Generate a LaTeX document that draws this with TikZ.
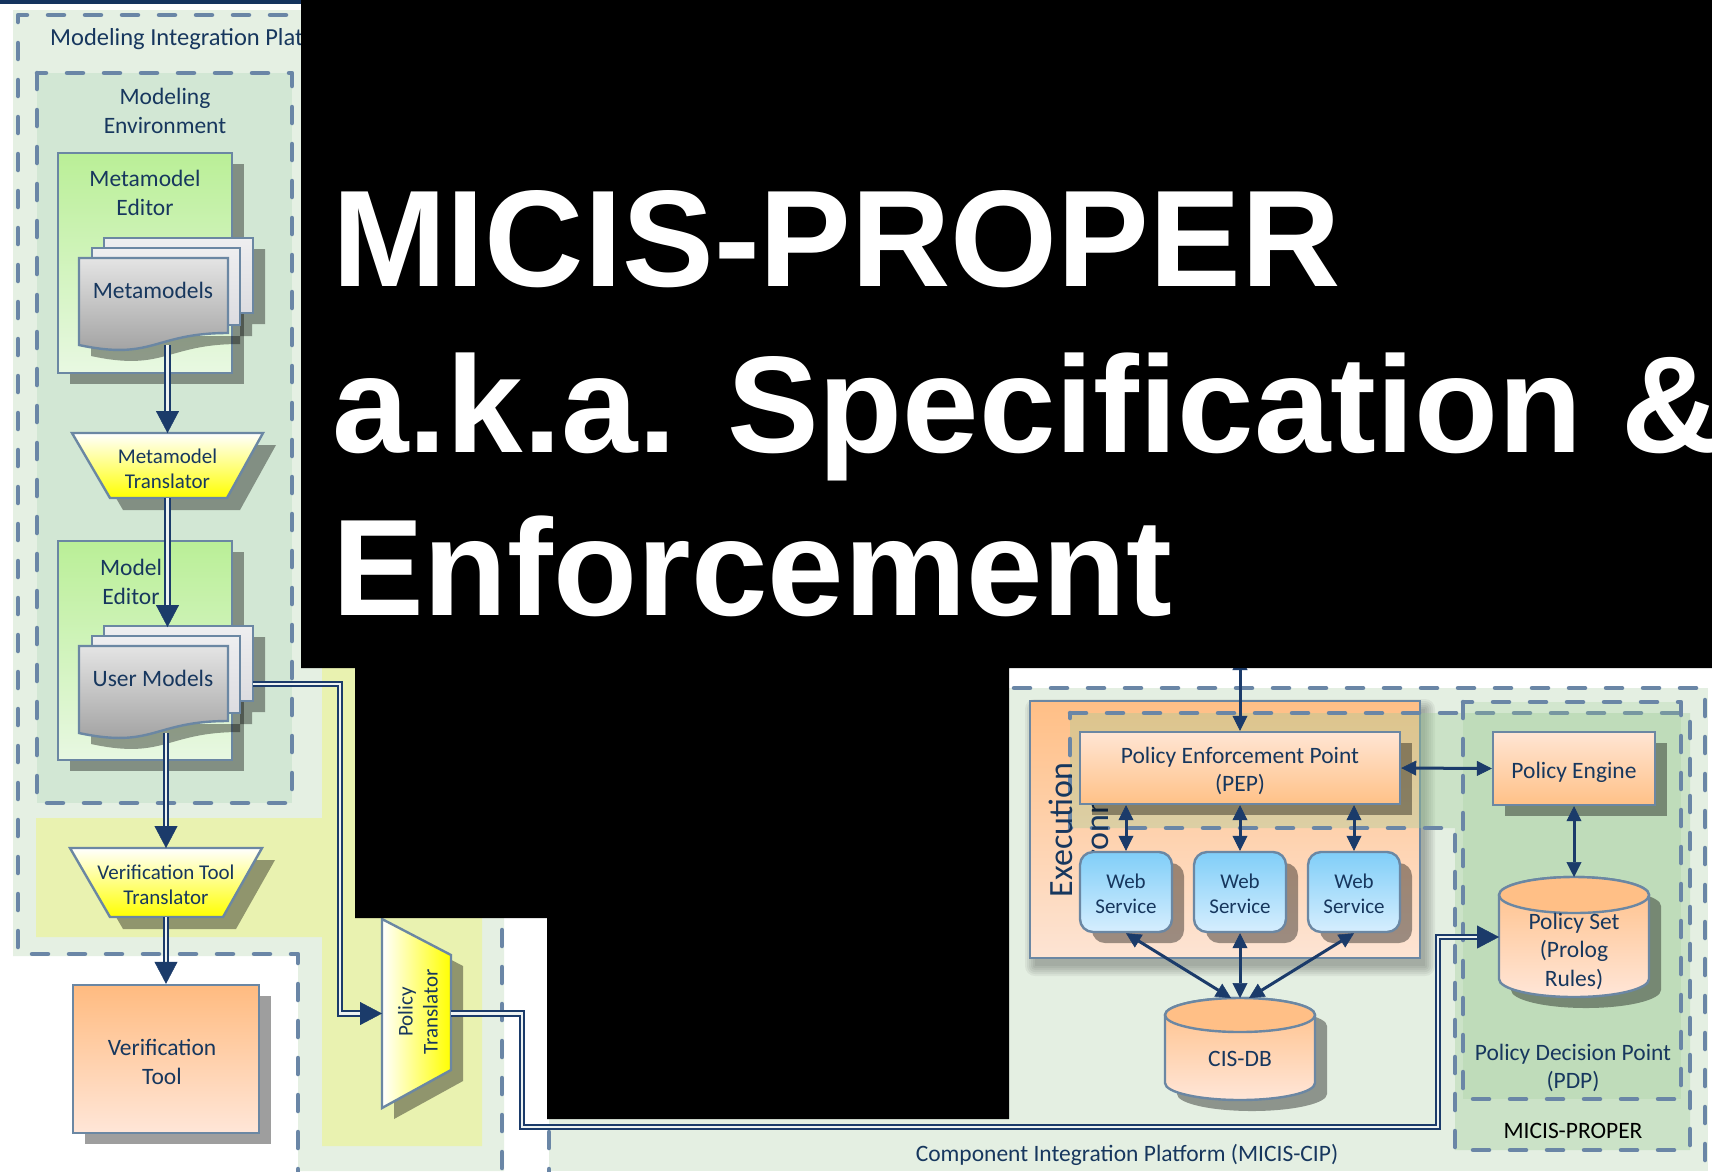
\documentclass[tikz,border=0pt]{standalone}
\usepackage{fontspec}
\setmainfont{Carlito}
\newfontfamily\titlefont{Liberation Sans}
\usetikzlibrary{arrows.meta,calc,shadows}

\definecolor{navyc}{HTML}{1B3B6A}
\definecolor{dblin}{HTML}{EEF3F1}
\definecolor{txtc}{HTML}{17375E}
\definecolor{edgec}{HTML}{6B87A3}
\definecolor{dashc}{HTML}{6A86A6}
\definecolor{mipfill}{HTML}{E5F0E3}
\definecolor{mefill}{HTML}{D2E7D4}
\definecolor{yelfill}{HTML}{E9F2B0}
\definecolor{cipfill}{HTML}{E4EFE2}
\definecolor{propfill}{HTML}{9ECC96}
\definecolor{greentop}{HTML}{BAEF97}
\definecolor{greenbot}{HTML}{E8F8E2}
\definecolor{orangetop}{HTML}{FFBB80}
\definecolor{orangebot}{HTML}{FFE6D8}
\definecolor{eetop}{HTML}{FFBF86}
\definecolor{eebot}{HTML}{FDE4D4}
\definecolor{peachtop}{HTML}{FFE5D4}
\definecolor{peachbot}{HTML}{FFC187}
\definecolor{bluetop}{HTML}{80CEF8}
\definecolor{bluebot}{HTML}{D6EEFE}
\definecolor{cyltop}{HTML}{FFBF86}
\definecolor{cylbot}{HTML}{FFE6D8}
\definecolor{pagetop}{HTML}{EEEEF0}
\definecolor{pagebot}{HTML}{DCDCE0}
\definecolor{fronttop}{HTML}{E4E4E4}
\definecolor{frontbot}{HTML}{9C9C9C}
\definecolor{pureyellow}{HTML}{FFFF00}
\definecolor{navybar}{HTML}{15335E}

% stack of three document pages, front page top-left at (#1,#2)
\newcommand\docstack[2]{%
  \begin{scope}[shift={(#1,#2)}]
    \fill[sh, shift={(12,11)}] (25,-20) rectangle (174,55) (13,-10) rectangle (161,67)
      (0,0) -- (149,0) -- (149,75) .. controls (74.5,75) and (74.5,103) .. (0,87) -- cycle;
    \draw[boxedge, top color=pagetop, bottom color=pagebot] (25,-20) rectangle (174,55);
    \draw[boxedge, top color=pagetop, bottom color=pagebot] (13,-10) rectangle (161,67);
    \draw[boxedge, top color=fronttop, bottom color=frontbot]
      (0,0) -- (149,0) -- (149,75) .. controls (74.5,75) and (74.5,103) .. (0,87) -- cycle;
  \end{scope}}

% upright drum: centre x, top y, bottom y, x radius, y radius
\newcommand\drum[5]{%
  \fill[sh, shift={(12,11)}] (#1-#4,#2+#5) -- (#1-#4,#3-#5)
    arc[start angle=180, end angle=0, x radius=#4, y radius=#5] -- (#1+#4,#2+#5)
    arc[start angle=0, end angle=-180, x radius=#4, y radius=#5] -- cycle;
  \draw[boxedge, top color=cyltop, bottom color=cylbot] (#1-#4,#2+#5) -- (#1-#4,#3-#5)
    arc[start angle=180, end angle=0, x radius=#4, y radius=#5] -- (#1+#4,#2+#5)
    arc[start angle=0, end angle=-180, x radius=#4, y radius=#5] -- cycle;
  \draw[boxedge, fill=cyltop] (#1,#2+#5) ellipse[x radius=#4, y radius=#5];}

\begin{document}
\begin{tikzpicture}[x=1pt, y=-1pt,
  dashbox/.style={draw=dashc, line width=4.5pt, dash pattern=on 16pt off 21pt, line cap=round, line join=round},
  boxedge/.style={draw=edgec, line width=2.4pt},
  sh/.style={fill=black, fill opacity=0.38},
  dshadow/.style={drop shadow={shadow xshift=12pt, shadow yshift=-11pt, fill=black, opacity=0.38}},
  lbl/.style={text=txtc, font=\fontsize{23.5}{28.5}\selectfont, align=center, inner sep=0pt},
  lblsm/.style={lbl, font=\fontsize{21}{25}\selectfont},
  holder/.style={inner sep=0pt, outer sep=0pt},
  dbl/.style={draw=navyc, line width=2.3pt, double=dblin, double distance=2.3pt, shorten >=10pt},
  bigtip/.style={draw=navyc, line width=0.4pt, -{Triangle[width=23pt,length=22pt]}},
  biarrow/.style={draw=navyc, line width=3pt,
    {Triangle[width=15pt,length=15pt,line width=0.5pt]}-{Triangle[width=15pt,length=15pt,line width=0.5pt]}},
  titletxt/.style={text=white, font=\titlefont\bfseries\fontsize{137.5}{165}\selectfont, inner sep=0pt},
]
\useasboundingbox (0,0) rectangle (1712,1171);
\fill[white] (0,0) rectangle (1712,1171);
\clip (0,0) rectangle (1712,1171);

% ---------- platforms and backdrops ----------
\fill[mipfill] (13,10) -- (504,10) -- (504,1171) -- (298,1171) -- (298,956) -- (13,956) -- cycle;
\fill[cipfill] (549,688) rectangle (1708,1171);
\fill[yelfill] (36,818) -- (322,818) -- (322,600) -- (482,600) -- (482,1146) -- (322,1146)
  -- (322,937) -- (36,937) -- cycle;
\fill[mefill] (37,73) rectangle (292,803);
\draw[dashbox] (37,73) rectangle (292,803);
\draw[dashbox] (298,1185) -- (298,954) -- (18,954) -- (18,15) -- (502,15) -- (502,1185);
\draw[dashbox] (549,1185) -- (549,688) -- (1705,688) -- (1705,1185);

\node[lbl, font=\fontsize{24.5}{29}\selectfont, anchor=base west] (miplbl) at (50,45) {Modeling Integration Platform};
\node[lbl] (melbl) at (165,111) {Modeling\\Environment};
\node[lbl] (ciplbl) at (1127,1155) {Component Integration Platform (MICIS-CIP)};

% ---------- execution environment ----------
\foreach \k in {0,...,5}
  \fill[black, fill opacity=0.05, rounded corners=2*\k] (1035-2*\k,709-2*\k) rectangle (1425+2*\k,966+2*\k);
\node[boxedge, top color=eetop, bottom color=eebot, minimum width=390, minimum height=257] (ee) at (1225,829.5) {};

% MICIS-PROPER region and decision point
\fill[propfill, fill opacity=0.35] (1070,713) -- (1690,713) -- (1690,1150) -- (1455,1150) -- (1455,828) -- (1070,828) -- cycle;
\draw[dashbox] (1070,713) -- (1690,713) -- (1690,1150) -- (1455,1150) -- (1455,828) -- (1070,828) -- cycle;
\fill[propfill, fill opacity=0.25] (1463,702) rectangle (1681,1099);
\draw[dashbox] (1463,702) rectangle (1681,1099);

\node[lbl, font=\fontsize{34}{40}\selectfont, rotate=90, anchor=base] (eelbl1) at (1072,830) {Execution};
\node[lbl, font=\fontsize{34}{40}\selectfont, rotate=90, anchor=base] (eelbl2) at (1108,830) {Environment};

% ---------- enforcement side ----------
\node[boxedge, top color=peachtop, bottom color=peachbot, minimum width=320, minimum height=72, dshadow]
  (pep) at (1240,768) {};
\node[lbl] (peplbl) at (1240,771) {Policy Enforcement Point\\(PEP)};
\foreach \n/\x in {ws1/1126, ws2/1240, ws3/1354} {
  \node[boxedge, rounded corners=13pt, top color=bluetop, bottom color=bluebot, minimum width=92,
    minimum height=80, dshadow] (\n) at (\x,892) {};
  \node[lblsm] (\n lbl) at (\x,894) {Web\\Service};}
\node[boxedge, top color=peachtop, bottom color=peachbot, minimum width=162, minimum height=73, dshadow]
  (pe) at (1574,768.5) {};
\node[lbl] (pelbl) at (1574,772) {Policy Engine};

\drum{1574}{877}{997}{75}{18}
\node[holder, minimum width=150, minimum height=120] (ps) at (1574,937) {};
\node[lbl] (pslbl) at (1574,951) {Policy Set\\(Prolog\\Rules)};

\drum{1240}{998}{1100}{75}{17}
\node[holder, minimum width=150, minimum height=102] (db) at (1240,1049) {};
\node[lbl] (dblbl) at (1240,1059) {CIS-DB};

\node[lbl] (pdplbl) at (1573,1068) {Policy Decision Point\\(PDP)};
\node[lbl, text=black] (proplbl) at (1573,1131) {MICIS-PROPER};

\coordinate (pepin) at (1240,655);
\draw[biarrow] (pepin) -- (pep.north);
\foreach \n in {ws1,ws2,ws3}
  \draw[biarrow] (\n.north |- pep.south) -- (\n.north);
\draw[biarrow] (pep.east) -- (pe.west);
\draw[biarrow] (pe.south) -- (ps.north);
\draw[biarrow] (ws1.south) -- ([xshift=-9pt]db.north);
\draw[biarrow] (ws2.south) -- (db.north);
\draw[biarrow] (ws3.south) -- ([xshift=9pt]db.north);

% ---------- modeling side ----------
\node[boxedge, top color=greentop, bottom color=greenbot, minimum width=174, minimum height=220, dshadow]
  (mme) at (145,263) {};
\node[lbl] (mmelbl) at (145,193) {Metamodel\\Editor};
\docstack{79}{258}
\node[holder, minimum width=174, minimum height=107, anchor=north west] (mm) at (79,238) {};
\node[lbl] (mmlbl) at (153,290) {Metamodels};

\fill[sh, shift={(13,12)}] (72,433) -- (263,433) -- (227,498) -- (110,498) -- cycle;
\draw[boxedge, top color=white, bottom color=pureyellow] (72,433) -- (263,433) -- (227,498) -- (110,498) -- cycle;
\node[holder, minimum width=191, minimum height=65] (mmt) at (167.5,465.5) {};
\node[lblsm] (mmtlbl) at (167.5,469) {Metamodel\\Translator};

\node[boxedge, top color=greentop, bottom color=greenbot, minimum width=174, minimum height=219, dshadow]
  (mde) at (145,650.5) {};
\node[lbl] (mdelbl) at (131,582) {Model\\Editor};
\docstack{79}{646}
\node[holder, minimum width=174, minimum height=106, anchor=north west] (um) at (79,627) {};
\node[lbl] (umlbl) at (153,678) {User Models};

\fill[sh, shift={(13,12)}] (70,848) -- (262,848) -- (223,917) -- (110,917) -- cycle;
\draw[boxedge, top color=white, bottom color=pureyellow] (70,848) -- (262,848) -- (223,917) -- (110,917) -- cycle;
\node[holder, minimum width=192, minimum height=69] (vtt) at (166,882.5) {};
\node[lblsm] (vttlbl) at (166,885) {Verification Tool\\Translator};

\node[boxedge, top color=orangetop, bottom color=orangebot, minimum width=186, minimum height=148, dshadow]
  (vt) at (166,1059) {};
\node[lbl] (vtlbl) at (162,1062) {Verification\\Tool};

\fill[sh, shift={(12,11)}] (382,919) -- (451,955) -- (451,1070) -- (382,1108) -- cycle;
\draw[boxedge, left color=white, right color=pureyellow] (382,919) -- (451,955) -- (451,1070) -- (382,1108) -- cycle;
\node[holder, minimum width=69, minimum height=189] (pt) at (416.5,1013.5) {};
\node[lblsm, rotate=90] (ptlbl) at (418,1012) {Policy\\Translator};

% ---------- double-line flows ----------
\coordinate (mmout) at (mmt.north |- mm.south);
\draw[dbl] (mmout) -- (mmt.north);
\draw[bigtip] ($(mmt.north)+(0,-22)$) -- (mmt.north);

\coordinate (umin) at (mmt.south |- um.north);
\draw[dbl] (mmt.south) -- (umin);
\draw[bigtip] ($(umin)+(0,-22)$) -- (umin);

\coordinate (umout) at (vtt.north |- um.south);
\draw[dbl] (umout) -- (vtt.north);
\draw[bigtip] ($(vtt.north)+(0,-22)$) -- (vtt.north);

\draw[dbl] (vtt.south) -- (vt.north);
\draw[bigtip] ($(vt.north)+(0,-22)$) -- (vt.north);

\coordinate (umbend) at (340,1013.5);
\draw[dbl] ([yshift=-4pt]um.east) -| (umbend) -- (pt.west);
\draw[bigtip] ($(pt.west)+(-22,0)$) -- (pt.west);

\coordinate (ptbend) at (522,1127);
\coordinate (psbend) at (1438,937);
\draw[dbl] (pt.east) -| (ptbend) -| (psbend) -- (ps.west);
\draw[bigtip] ($(ps.west)+(-22,0)$) -- (ps.west);

% ---------- title panel ----------
\fill[black] (301,0) -- (1712,0) -- (1712,668) -- (1009,668) -- (1009,1119) -- (547,1119)
  -- (547,918) -- (355,918) -- (355,668) -- (301,668) -- cycle;
\fill[navybar] (0,0) rectangle (301,4);
\node[titletxt, anchor=base west] (t1) at (332,286) {MICIS-PROPER};
\node[titletxt, anchor=base west] (t2) at (332,452) {a.k.a. Specification \&};
\node[titletxt, anchor=base west] (t3) at (332,615) {Enforcement};
\end{tikzpicture}
\end{document}
